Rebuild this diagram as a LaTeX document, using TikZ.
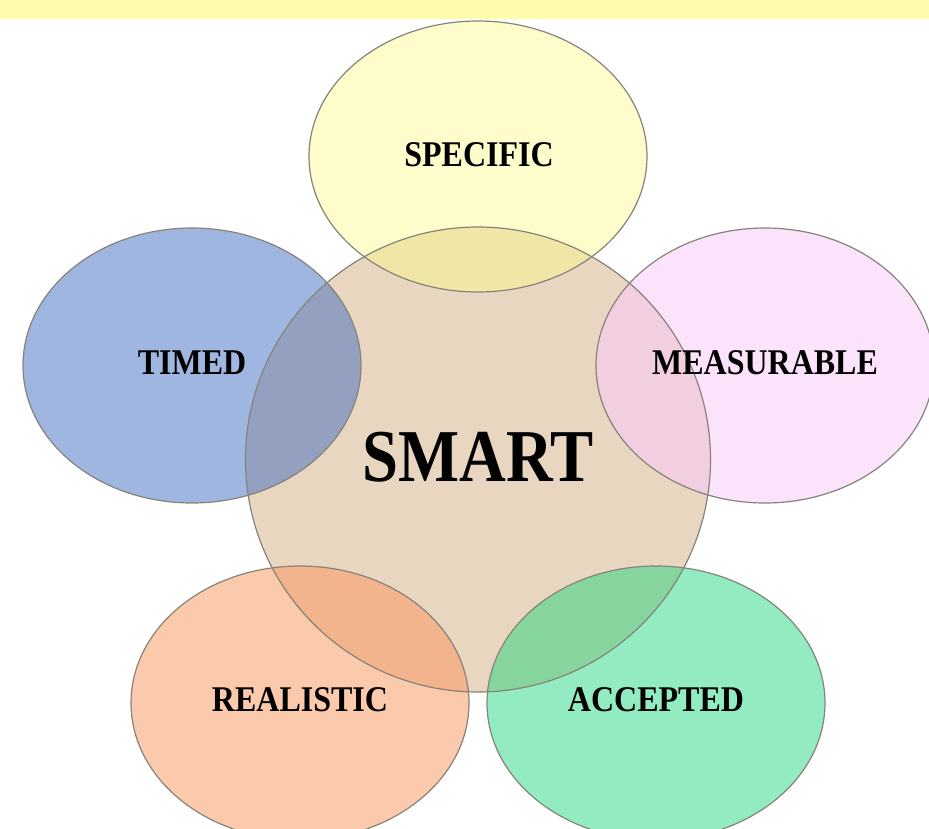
\documentclass[tikz,border=0pt]{standalone}
\usepackage{fontspec}
\setmainfont{Liberation Serif}
\definecolor{band}{HTML}{FFFDAB}
\definecolor{cS}{HTML}{FEFCCA}
\definecolor{cSx}{HTML}{F0E6A6}
\definecolor{cC}{HTML}{E8D6C1}
\definecolor{cT}{HTML}{9EB6E0}
\definecolor{cTx}{HTML}{93A0C0}
\definecolor{cM}{HTML}{FBE4FB}
\definecolor{cMx}{HTML}{F2CFE0}
\definecolor{cR}{HTML}{FBC9AB}
\definecolor{cRx}{HTML}{F2B38D}
\definecolor{cA}{HTML}{93EBC1}
\definecolor{cAx}{HTML}{86D59E}
\definecolor{edge}{HTML}{86837A}
\newcommand{\tallsm}[1]{\scalebox{1}[1.13]{#1}}
\newcommand{\tallbig}[1]{\scalebox{0.98}[1.13]{#1}}
\begin{document}
\begin{tikzpicture}[x=1pt,y=-1pt,
  outline/.style={draw=edge,line width=1.2pt},
  lbl/.style={font=\bfseries\fontsize{32}{32}\selectfont,inner sep=0pt},
  biglbl/.style={font=\bfseries\fontsize{66}{66}\selectfont,inner sep=0pt}]
\useasboundingbox (0,0) rectangle (929,828);
\fill[band] (0,0) rectangle (929,19);
\def\shC{(478,459.5) circle [radius=232.5]}
\def\shS{(478,156.5) ellipse [x radius=169, y radius=135.5]}
\def\shT{(192,365.5) ellipse [x radius=169, y radius=137.5]}
\def\shM{(765,365.5) ellipse [x radius=169, y radius=137.5]}
\def\shR{(300,703) ellipse [x radius=169, y radius=137]}
\def\shA{(656,703) ellipse [x radius=169, y radius=137]}
% base fills
\fill[cC] \shC;
\fill[cS] \shS;
\fill[cT] \shT;
\fill[cM] \shM;
\fill[cR] \shR;
\fill[cA] \shA;
% overlaps with the centre circle
\begin{scope}\clip \shC; \fill[cSx] \shS; \end{scope}
\begin{scope}\clip \shC; \fill[cTx] \shT; \end{scope}
\begin{scope}\clip \shC; \fill[cMx] \shM; \end{scope}
\begin{scope}\clip \shC; \fill[cRx] \shR; \end{scope}
\begin{scope}\clip \shC; \fill[cAx] \shA; \end{scope}
% outlines
\draw[outline] \shC;
\draw[outline] \shS;
\draw[outline] \shT;
\draw[outline] \shM;
\draw[outline] \shR;
\draw[outline] \shA;
% labels
\node[lbl] (specific) at (479,155) {\tallsm{SPECIFIC}};
\node[lbl] (timed) at (192,363) {\tallsm{TIMED}};
\node[lbl] (measurable) at (765,363) {\tallsm{MEASURABLE}};
\node[biglbl] (smart) at (478,457.5) {\tallbig{SMART}};
\node[lbl] (realistic) at (300,700) {\tallsm{REALISTIC}};
\node[lbl] (accepted) at (656,700) {\tallsm{ACCEPTED}};
\end{tikzpicture}
\end{document}
